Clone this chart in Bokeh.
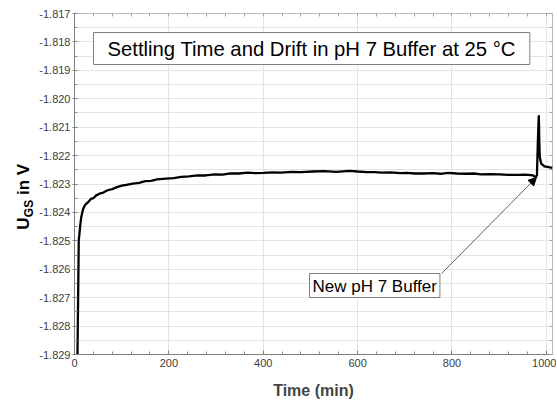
import math
from bokeh.plotting import figure
from bokeh.layouts import row
from bokeh.models import (FixedTicker, PrintfTickFormatter, Label, Arrow, NormalHead, Range1d,
                          LinearAxis)
from bokeh.core.properties import value
from bokeh.embed import file_html
from bokeh.resources import INLINE

# Data
time_min = [5, 6.3, 7.6, 9, 11.9, 14, 16.5, 19, 22, 26, 30, 35, 40, 46, 53, 61, 70, 80, 90,
            100, 110, 124, 137, 150, 162, 175, 194, 210, 226, 243, 260, 278, 297, 314, 330,
            348, 367, 384, 400, 420, 438, 460, 480, 505, 529, 555, 583, 600, 620, 636, 651,
            670, 690, 705, 721, 740, 760, 775, 792, 810, 830, 846, 862, 880, 900, 920, 940,
            956, 972, 977, 980, 982, 984, 985, 986, 989, 996, 1005, 1013]
ugs_v = [-1.8300, -1.8290, -1.8271, -1.8250, -1.8245, -1.82420, -1.82400, -1.82385,
         -1.82375, -1.82368, -1.82362, -1.82352, -1.82350, -1.82340, -1.82334, -1.82330,
         -1.82322, -1.82318, -1.82311, -1.82306, -1.82303, -1.82299, -1.82296, -1.82290,
         -1.82289, -1.82284, -1.82281, -1.82279, -1.82275, -1.82273, -1.82270, -1.82270,
         -1.82266, -1.82267, -1.82263, -1.82263, -1.82260, -1.82262, -1.82261, -1.82259,
         -1.82260, -1.82257, -1.82258, -1.82256, -1.82255, -1.82257, -1.82254, -1.82256,
         -1.82258, -1.82258, -1.82260, -1.82259, -1.82262, -1.82261, -1.82263, -1.82263,
         -1.82262, -1.82264, -1.82261, -1.82263, -1.82264, -1.82263, -1.82266, -1.82265,
         -1.82266, -1.82268, -1.82268, -1.82267, -1.82270, -1.82276, -1.82270, -1.82150,
         -1.82058, -1.82150, -1.82205, -1.82228, -1.82238, -1.82241, -1.82243]

x_ticks = [0, 200, 400, 600, 800, 1000]
y_ticks = [-1.829, -1.828, -1.827, -1.826, -1.825, -1.824, -1.823, -1.822, -1.821,
           -1.820, -1.819, -1.818, -1.817]
y_minor = [-1.8285, -1.8275, -1.8265, -1.8255, -1.8245, -1.8235, -1.8225, -1.8215,
           -1.8205, -1.8195, -1.8185, -1.8175]
x_minor = [40, 80, 120, 160, 240, 280, 320, 360, 440, 480, 520, 560, 640, 680, 720, 760,
           840, 880, 920, 960]

title_text = "Settling Time and Drift in pH 7 Buffer at 25 °C"
note_text = "New pH 7 Buffer"
x_label = "Time (min)"
y_label_main = "U"
y_label_sub = "GS"
y_label_rest = "in V"

FONT = "Liberation Sans"
TOTAL_H = 402
LAB_W = 36

p = figure(frame_width=478, frame_height=341,
           x_range=Range1d(0, 1013), y_range=Range1d(-1.829, -1.817),
           output_backend="svg", toolbar_location=None,
           min_border_left=73 - LAB_W, min_border_right=4, min_border_top=13,
           min_border_bottom=TOTAL_H - 13 - 341)

p.line(time_min, ugs_v, line_color="black", line_width=2.3)

p.outline_line_color = "#b8b8b8"
p.background_fill_color = "white"

xa = p.xaxis[0]
xa.ticker = FixedTicker(ticks=x_ticks, minor_ticks=x_minor)
xa.axis_label = x_label
xa.axis_label_text_font = FONT
xa.axis_label_text_font_style = "bold"
xa.axis_label_text_font_size = "16px"
xa.axis_label_standoff = 12
xa.major_label_text_font = FONT
xa.major_label_text_font_size = "11px"
xa.major_label_text_color = "#404040"
xa.major_tick_in = 4
xa.major_tick_out = 0
xa.minor_tick_in = 3
xa.minor_tick_out = 0
xa.major_label_standoff = 4
xa.axis_line_color = "#808080"
xa.major_tick_line_color = "#808080"
xa.minor_tick_line_color = "#909090"

ya = p.yaxis[0]
ya.ticker = FixedTicker(ticks=y_ticks, minor_ticks=y_minor)
ya.formatter = PrintfTickFormatter(format="%.3f")
ya.major_label_text_font = FONT
ya.major_label_text_font_size = "11px"
ya.major_label_text_color = "#404040"
ya.major_tick_in = 3
ya.major_tick_out = 2
ya.minor_tick_in = 3
ya.minor_tick_out = 0
ya.major_label_standoff = 2
ya.axis_line_color = "#808080"
ya.major_tick_line_color = "#808080"
ya.minor_tick_line_color = "#909090"

# inward tick marks on the top and right edges (no labels)
top_ax = LinearAxis(ticker=FixedTicker(ticks=[], minor_ticks=x_ticks + x_minor),
                    axis_line_color=None, minor_tick_in=3, minor_tick_out=0,
                    minor_tick_line_color="#a0a0a0", major_label_standoff=0)
right_ax = LinearAxis(ticker=FixedTicker(ticks=[], minor_ticks=y_ticks + y_minor),
                      axis_line_color=None, minor_tick_in=3, minor_tick_out=0,
                      minor_tick_line_color="#a0a0a0", major_label_standoff=0)
p.add_layout(top_ax, "above")
p.add_layout(right_ax, "right")

p.xgrid.grid_line_color = "#e4e4e4"
p.ygrid.grid_line_color = "#e4e4e4"
p.ygrid.minor_grid_line_color = "#e4e4e4"

# title box (anchored at its top-left corner)
p.add_layout(Label(x=x_ticks[0], y=y_ticks[-1], x_offset=19, y_offset=-19, text=title_text,
                   text_font=FONT, text_font_size="20.3px", text_align="left",
                   text_baseline="top", text_color="black",
                   border_line_color="#808080", border_line_width=1,
                   background_fill_color="white",
                   padding=dict(left=14, right=14, top=5, bottom=5)))

# annotation box
p.add_layout(Label(x=x_ticks[0], y=y_ticks[-1], x_offset=235, y_offset=-260, text=note_text,
                   text_font=FONT, text_font_size="17px", text_align="left",
                   text_baseline="top", text_color="black",
                   border_line_color="#808080", border_line_width=1,
                   background_fill_color="white",
                   padding=dict(left=3, right=3, top=3, bottom=2)))

p.add_layout(Arrow(end=NormalHead(size=8, fill_color="black", line_color="black"),
                   x_start=778, y_start=-1.82615, x_end=979, y_end=-1.82277,
                   line_color="#606060", line_width=1))

# narrow side panel carrying the rotated y-axis title with subscript
lab = figure(frame_width=LAB_W, frame_height=TOTAL_H, x_range=Range1d(0, LAB_W),
             y_range=Range1d(0, TOTAL_H), output_backend="svg", toolbar_location=None,
             x_axis_type=None, y_axis_type=None,
             min_border_left=0, min_border_right=0, min_border_top=0, min_border_bottom=0)
lab.grid.visible = False
lab.outline_line_color = None
lab.background_fill_color = "white"
lab.border_fill_color = "white"

ang = math.pi / 2
lab.text(x=[23], y=[TOTAL_H - 210], text=[y_label_main], angle=ang,
         text_font=value(FONT), text_font_style="bold", text_font_size="17px",
         text_align="center", text_baseline="middle", text_color="black")
lab.text(x=[28], y=[TOTAL_H - 195], text=[y_label_sub], angle=ang,
         text_font=value(FONT), text_font_style="bold", text_font_size="12px",
         text_align="center", text_baseline="middle", text_color="black")
lab.text(x=[23], y=[TOTAL_H - 166], text=[y_label_rest], angle=ang,
         text_font=value(FONT), text_font_style="bold", text_font_size="17px",
         text_align="center", text_baseline="middle", text_color="black")

layout = row(lab, p, spacing=0)
open("out.html", "w").write(file_html(layout, INLINE))
